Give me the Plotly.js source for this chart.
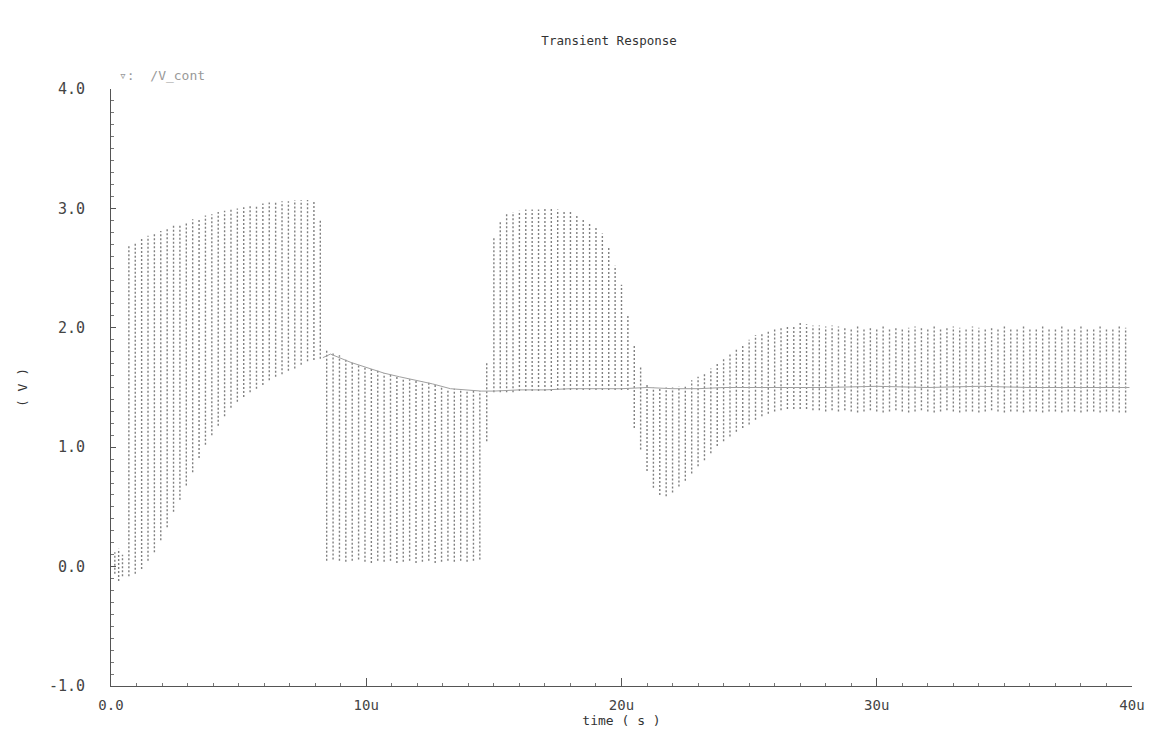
<!DOCTYPE html>
<html>
<head>
<meta charset="utf-8">
<script src="https://cdn.plot.ly/plotly-3.0.1.min.js"></script>
<style>
html,body{margin:0;padding:0;background:#fff;}
#chart{width:1158px;height:732px;}
</style>
</head>
<body>
<div id="chart"></div>
<script>
// ---- data (time in microseconds, voltage in V) ----
const spikeT = [
  0.15, 0.30, 0.45,
  0.70, 0.95, 1.20, 1.45, 1.70, 1.95, 2.20, 2.45, 2.70, 2.95, 3.20, 3.45, 3.70, 3.95, 4.20, 4.45, 4.70, 4.95,
  5.20, 5.45, 5.70, 5.95, 6.20, 6.45, 6.70, 6.95, 7.20, 7.45, 7.70, 7.95, 8.20,
  8.45, 8.70, 8.95, 9.20, 9.45, 9.70, 9.95, 10.20, 10.45, 10.70, 10.95, 11.20, 11.45, 11.70, 11.95,
  12.20, 12.45, 12.70, 12.95, 13.20, 13.45, 13.70, 13.95, 14.20, 14.45, 14.72,
  15.00, 15.25, 15.50, 15.75, 16.00, 16.25, 16.50, 16.75, 17.00, 17.25, 17.50, 17.75, 18.00, 18.25,
  18.50, 18.75, 19.00, 19.25, 19.50, 19.75, 20.00, 20.25,
  20.50, 20.75, 21.00, 21.25, 21.50, 21.75, 22.00, 22.25, 22.50, 22.75, 23.00, 23.25, 23.50, 23.75,
  24.00, 24.25, 24.50, 24.75, 25.00, 25.25, 25.50, 25.75, 26.00, 26.25, 26.50, 26.75, 27.00, 27.25,
  27.50, 27.75, 28.00, 28.25, 28.50, 28.75, 29.00, 29.25, 29.50, 29.75, 30.00, 30.25, 30.50, 30.75,
  31.00, 31.25, 31.50, 31.75, 32.00, 32.25, 32.50, 32.75, 33.00, 33.25, 33.50, 33.75, 34.00, 34.25,
  34.50, 34.75, 35.00, 35.25, 35.50, 35.75, 36.00, 36.25, 36.50, 36.75, 37.00, 37.25, 37.50, 37.75,
  38.00, 38.25, 38.50, 38.75, 39.00, 39.25, 39.50, 39.75
];
const spikeHi = [
  0.12, 0.15, 0.10,
  2.70, 2.72, 2.75, 2.77, 2.79, 2.81, 2.83, 2.86, 2.87, 2.89, 2.91, 2.92, 2.94, 2.95, 2.97, 2.98, 2.99, 3.00,
  3.01, 3.02, 3.03, 3.04, 3.05, 3.05, 3.06, 3.06, 3.07, 3.07, 3.07, 3.07, 2.90,
  1.82, 1.79, 1.77, 1.74, 1.72, 1.70, 1.68, 1.67, 1.64, 1.62, 1.61, 1.60, 1.58, 1.57, 1.56,
  1.55, 1.54, 1.52, 1.51, 1.49, 1.49, 1.48, 1.48, 1.47, 1.47, 1.72,
  2.76, 2.90, 2.95, 2.97, 2.98, 2.99, 2.99, 2.99, 3.00, 3.00, 2.99, 2.98, 2.97, 2.95,
  2.92, 2.88, 2.85, 2.79, 2.68, 2.52, 2.36, 2.10,
  1.85, 1.68, 1.52, 1.50, 1.50, 1.50, 1.50, 1.51, 1.52, 1.56, 1.59, 1.62, 1.66, 1.70,
  1.74, 1.79, 1.83, 1.86, 1.90, 1.94, 1.96, 1.98, 1.99, 2.00, 2.01, 2.02, 2.04, 2.03,
  2.02, 2.02, 2.01, 2.02, 2.01, 2.01, 2.00, 2.01, 2.00, 2.01, 2.00, 2.01, 2.00, 2.01,
  2.00, 2.00, 2.01, 2.00, 2.00, 2.01, 2.00, 2.00, 2.01, 2.00, 2.00, 2.01, 2.00, 2.00,
  2.01, 2.00, 2.01, 2.00, 2.00, 2.01, 2.00, 2.00, 2.01, 2.00, 2.00, 2.01, 2.00, 2.00,
  2.01, 2.00, 2.00, 2.01, 2.00, 2.00, 2.01, 2.00
];
const spikeLo = [
  -0.06, -0.12, -0.08,
  -0.08, -0.06, -0.02, 0.05, 0.12, 0.22, 0.33, 0.46, 0.56, 0.68, 0.79, 0.91, 1.02, 1.10, 1.18, 1.26, 1.33, 1.38,
  1.42, 1.46, 1.49, 1.52, 1.56, 1.59, 1.61, 1.64, 1.66, 1.69, 1.72, 1.73, 1.74,
  0.05, 0.06, 0.05, 0.04, 0.05, 0.06, 0.04, 0.03, 0.05, 0.04, 0.05, 0.03, 0.04, 0.05, 0.03,
  0.04, 0.05, 0.03, 0.04, 0.05, 0.04, 0.05, 0.04, 0.05, 0.06, 1.05,
  1.46, 1.46, 1.46, 1.46, 1.47, 1.47, 1.47, 1.47, 1.47, 1.47, 1.48, 1.48, 1.48, 1.48,
  1.48, 1.48, 1.48, 1.48, 1.48, 1.48, 1.48, 1.48,
  1.16, 0.98, 0.80, 0.66, 0.60, 0.59, 0.62, 0.67, 0.72, 0.78, 0.84, 0.89, 0.95, 1.01,
  1.05, 1.09, 1.13, 1.16, 1.19, 1.23, 1.26, 1.28, 1.30, 1.31, 1.32, 1.32, 1.32, 1.32,
  1.31, 1.31, 1.30, 1.31, 1.30, 1.31, 1.30, 1.29, 1.30, 1.31, 1.30, 1.29, 1.30, 1.31,
  1.30, 1.29, 1.30, 1.31, 1.30, 1.29, 1.30, 1.31, 1.30, 1.29, 1.30, 1.30, 1.29, 1.30,
  1.31, 1.30, 1.29, 1.30, 1.30, 1.29, 1.30, 1.30, 1.29, 1.30, 1.30, 1.29, 1.30, 1.30,
  1.29, 1.30, 1.30, 1.29, 1.30, 1.30, 1.29, 1.29
];
// average (centre) line, visible from the end of the first ripple burst onwards
const midT = [8.3, 8.6, 9.4, 10.0, 10.7, 11.3, 12.0, 12.6,
  13.3, 13.9, 14.5, 15.0, 16.0, 17.0, 18.0, 19.0, 20.0, 21.0, 22.0, 23.0, 24.0, 26.0, 28.0, 30.0, 32.0,
  34.0, 36.0, 38.0, 39.9];
const midV = [1.75, 1.78, 1.71, 1.67, 1.62, 1.59, 1.56, 1.53,
  1.49, 1.48, 1.47, 1.47, 1.48, 1.48, 1.49, 1.49, 1.49, 1.50, 1.49, 1.49, 1.50, 1.50, 1.50, 1.51, 1.50,
  1.51, 1.50, 1.50, 1.50];
const xTickVals = [0, 10, 20, 30, 40];
const xTickText = ['0.0', '10u', '20u', '30u', '40u'];
const yTickVals = [-1, 0, 1, 2, 3, 4];
const yTickText = ['-1.0', '0.0', '1.0', '2.0', '3.0', '4.0'];

// ---- build vertical ripple segments from the arrays ----
const segX = [], segY = [];
for (let i = 0; i < spikeT.length; i++) {
  segX.push(spikeT[i], spikeT[i], null);
  segY.push(spikeLo[i], spikeHi[i], null);
}

const MONO = '"DejaVu Sans Mono", "Liberation Mono", monospace';

const traces = [
  {
    type: 'scatter', mode: 'lines', name: '/V_cont',
    x: segX, y: segY, connectgaps: false,
    line: {color: '#808080', width: 1.4, dash: '2px,2px'},
    hoverinfo: 'skip', showlegend: false
  },
  {
    type: 'scatter', mode: 'lines', name: '/V_cont avg',
    x: midT, y: midV,
    line: {color: '#a0a0a0', width: 1},
    hoverinfo: 'skip', showlegend: false
  }
];

const layout = {
  width: 1158, height: 732,
  paper_bgcolor: '#ffffff', plot_bgcolor: '#ffffff',
  margin: {l: 111, r: 26, t: 89, b: 46},
  showlegend: false,
  title: {
    text: 'Transient Response',
    x: 0.526, xref: 'container', xanchor: 'center',
    y: 0.945, yref: 'container', yanchor: 'middle',
    font: {family: MONO, size: 12.5, color: '#333'}
  },
  xaxis: {
    range: [0, 40], showgrid: false, zeroline: false,
    showline: true, linecolor: '#555', linewidth: 1,
    tickmode: 'array', tickvals: xTickVals, ticktext: xTickText,
    ticks: 'inside', ticklen: 8, tickcolor: '#555', tickwidth: 1,
    ticklabelstandoff: 6,
    tickfont: {family: MONO, size: 14, color: '#444'},
    minor: {ticks: 'inside', ticklen: 3, dtick: 1, tick0: 0, tickcolor: '#777', showgrid: false},
    title: {text: 'time ( s )', standoff: 2, font: {family: MONO, size: 13, color: '#333'}}
  },
  yaxis: {
    range: [-1, 4], showgrid: false, zeroline: false,
    showline: true, linecolor: '#555', linewidth: 1,
    tickmode: 'array', tickvals: yTickVals, ticktext: yTickText,
    ticks: 'inside', ticklen: 5, tickcolor: '#555', tickwidth: 1,
    ticklabelstandoff: 22,
    tickfont: {family: MONO, size: 15, color: '#444'},
    minor: {ticks: 'inside', ticklen: 3, dtick: 0.1, tick0: 0, tickcolor: '#777', showgrid: false},
    title: {text: '( V )', standoff: 18, font: {family: MONO, size: 13, color: '#333'}}
  },
  annotations: [
    {
      text: '▿:  /V_cont', xref: 'paper', yref: 'paper',
      x: 0.006, y: 1.0, xanchor: 'left', yanchor: 'bottom', yshift: 4,
      showarrow: false, font: {family: MONO, size: 13, color: '#999'}
    }
  ]
};

Plotly.newPlot('chart', traces, layout, {staticPlot: true, displayModeBar: false});
</script>
</body>
</html>
